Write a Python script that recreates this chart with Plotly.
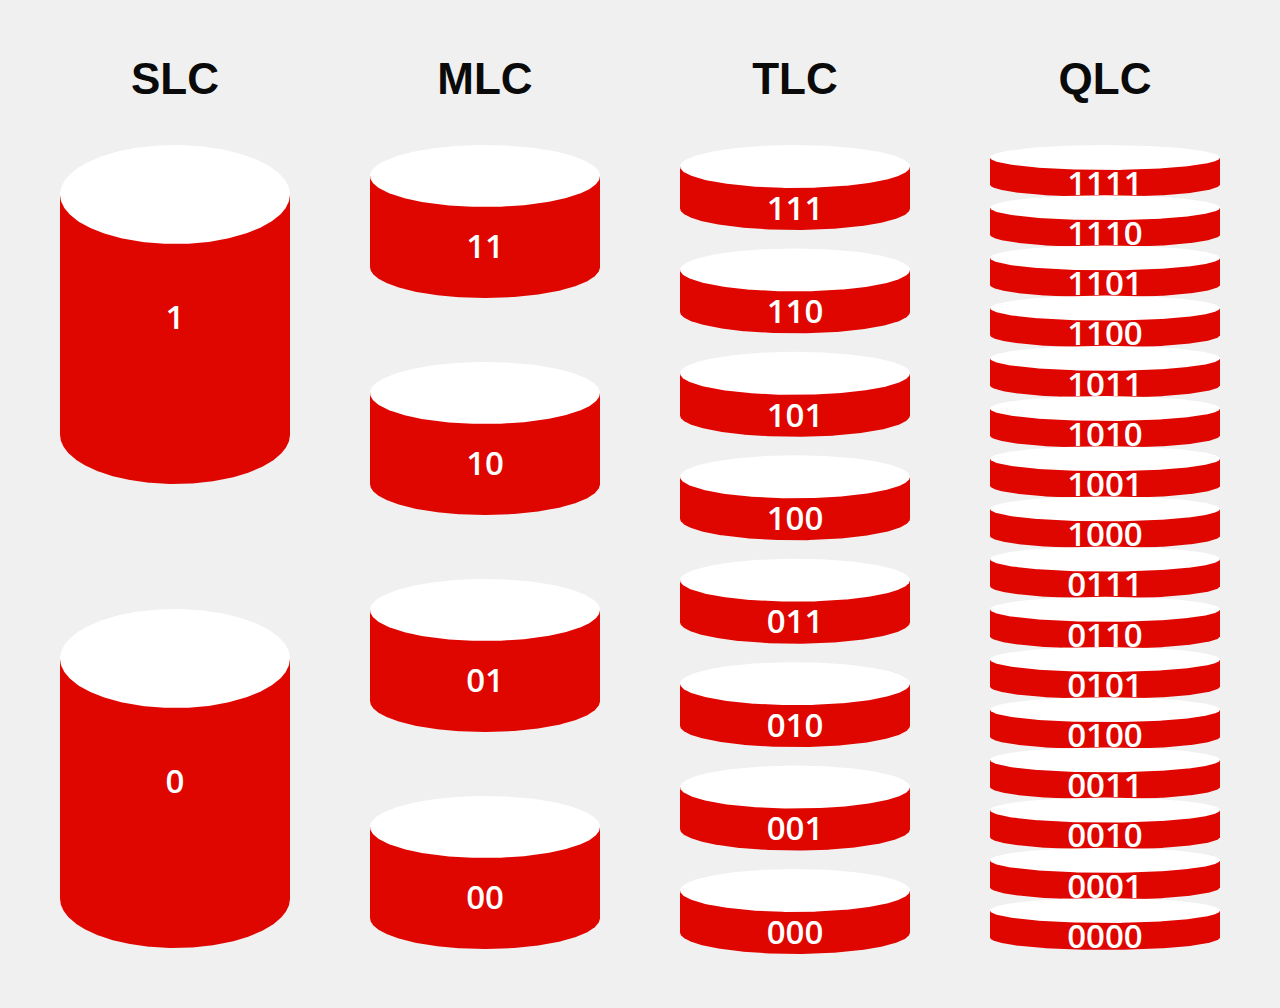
import numpy as np
import plotly.graph_objects as go

# NAND cell types and the bit patterns each cell level stores
cell_types = ["SLC", "MLC", "TLC", "QLC"]
bits_per_cell = [1, 2, 3, 4]
level_labels = [
    [format(v, "0%db" % b) for v in range(2 ** b - 1, -1, -1)]
    for b in bits_per_cell
]

# drawing style (pixel units, y grows downwards)
W, H = 1280, 1008
BG = "#F0F0F0"
RED = "#E00600"
col_x = [175, 485, 795, 1105]
rx = 115
stack_top = 145
stack_bottom = [948, 949, 954, 950]
ry = [49.5, 31, 21.5, 12.5]          # ellipse half-height per column
body = [240, 91, 42, 27]             # top-centre to bottom-centre
label_dy = [126, 74, 45, 29]         # label offset below top ellipse centre

t_low = np.linspace(np.pi, 0, 240)
t_all = np.linspace(0, 2 * np.pi, 360)

fig = go.Figure()
lx, ly, lt = [], [], []
for ci, name in enumerate(cell_types):
    n = len(level_labels[ci])
    h = 2 * ry[ci] + body[ci]
    pitch = (stack_bottom[ci] - stack_top - h) / (n - 1)
    cx = col_x[ci]
    for k, lab in enumerate(level_labels[ci]):
        yt = stack_top + k * pitch + ry[ci]
        yb = yt + body[ci]
        # red side + bottom half ellipse
        xs = list(cx + rx * np.cos(t_low)) + [cx + rx, cx - rx]
        ys = list(yb + ry[ci] * np.sin(t_low)) + [yt, yt]
        fig.add_trace(go.Scatter(x=xs, y=ys, fill="toself", fillcolor=RED,
                                 mode="lines", line=dict(width=0, color=RED),
                                 hoverinfo="skip", showlegend=False))
        # white top
        fig.add_trace(go.Scatter(x=cx + rx * np.cos(t_all),
                                 y=yt + ry[ci] * np.sin(t_all),
                                 fill="toself", fillcolor="white",
                                 mode="lines", line=dict(width=0, color="white"),
                                 hoverinfo="skip", showlegend=False))
        lx.append(cx)
        ly.append(yt + label_dy[ci])
        lt.append(lab)

fig.add_trace(go.Scatter(x=lx, y=ly, text=lt, mode="text",
                         textfont=dict(family="Open Sans", size=33,
                                       color="white", weight=600),
                         hoverinfo="skip", showlegend=False))
fig.add_trace(go.Scatter(x=col_x, y=[83] * 4, text=cell_types, mode="text",
                         textfont=dict(family="Liberation Sans", size=44,
                                       color="#0A0A0A", weight="bold"),
                         hoverinfo="skip", showlegend=False))

fig.update_xaxes(range=[0, W], visible=False, fixedrange=True)
fig.update_yaxes(range=[H, 0], visible=False, fixedrange=True)
fig.update_layout(width=W, height=H, margin=dict(l=0, r=0, t=0, b=0),
                  paper_bgcolor=BG, plot_bgcolor=BG)

fig.write_html("out.html", config={"displayModeBar": False},
               post_script="document.body.style.margin='0';"
                           "document.body.style.overflow='hidden';"
                           "document.body.style.background='%s';" % BG)
